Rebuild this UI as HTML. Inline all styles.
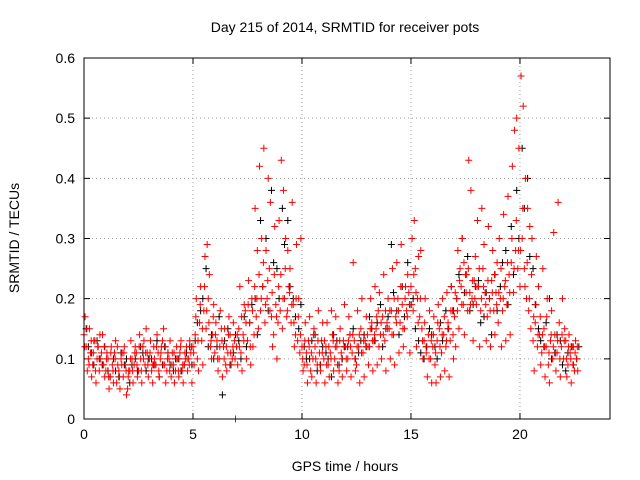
<!DOCTYPE html>
<html><head><meta charset="utf-8"><style>
html,body{margin:0;padding:0;background:#fff}
svg{display:block;font-family:"Liberation Sans",sans-serif}
</style></head><body>
<svg id="chart" width="640" height="480" xmlns="http://www.w3.org/2000/svg">
<rect width="640" height="480" fill="#fff"/>
<g id="grid"></g>
<g id="axes"></g>
<g id="marks"></g>
<rect x="84" y="58" width="526" height="361" fill="none" stroke="#000" stroke-width="1"/>
<text x="345" y="32" text-anchor="middle" font-size="14">Day 215 of 2014, SRMTID for receiver pots</text>
<text x="345" y="471" text-anchor="middle" font-size="14">GPS time / hours</text>
<text transform="translate(19,238) rotate(-90)" text-anchor="middle" font-size="14">SRMTID / TECUs</text>
</svg>
<script>
const xTicks=[0,5,10,15,20];
const yTicks=[0,0.1,0.2,0.3,0.4,0.5,0.6];
const yTickLabels=["0","0.1","0.2","0.3","0.4","0.5","0.6"];
const redStep=0.1;
const redA=[.14,.12,.10,.11,.09,.13,.10,.08,.11,.09,
.08,.10,.07,.09,.11,.06,.08,.10,.07,.09,
.05,.08,.10,.09,.11,.08,.10,.12,.09,.11,
.10,.08,.12,.09,.11,.10,.13,.09,.08,.10,
.07,.09,.08,.10,.11,.08,.09,.12,.10,.11,
.12,.14,.10,.16,.13,.18,.15,.20,.12,.14,
.11,.13,.10,.15,.12,.09,.11,.14,.10,.13,
.12,.15,.11,.14,.18,.13,.16,.20,.14,.17,
.15,.18,.22,.16,.20,.25,.17,.14,.19,.16,
.18,.15,.20,.17,.22,.16,.19,.14,.13,.11,
.12,.09,.11,.13,.08,.10,.12,.09,.11,.13,
.10,.12,.09,.11,.14,.10,.12,.08,.11,.13,
.12,.10,.14,.11,.13,.09,.12,.15,.11,.13,
.14,.12,.16,.13,.15,.18,.14,.17,.13,.16,
.15,.18,.14,.17,.20,.16,.19,.15,.18,.21,
.22,.18,.25,.20,.17,.15,.13,.11,.14,.10,
.12,.09,.13,.15,.11,.14,.12,.16,.13,.18,
.17,.20,.15,.22,.19,.24,.18,.21,.20,.23,
.19,.22,.18,.25,.21,.17,.20,.23,.18,.21,
.16,.20,.18,.22,.19,.24,.26,.21,.28,.25,
.22,.30,.25,.20,.18,.15,.13,.16,.12,.14,
.11,.15,.12,.09,.13,.10,.14,.11,.16,.12,
.10,.13,.09,.11,.12,.08,.10];
const redB=[.17,.08,.15,.07,.13,.06,.12,.10,.14,.07,
.11,.05,.12,.06,.13,.09,.05,.11,.12,.04,
.08,.13,.06,.12,.07,.14,.06,.13,.15,.07,
.13,.06,.09,.14,.07,.12,.15,.06,.11,.13,
.11,.06,.12,.07,.13,.06,.10,.08,.13,.06,
.09,.20,.08,.22,.09,.27,.29,.24,.10,.19,
.16,.08,.18,.07,.15,.08,.17,.09,.16,.00,
.09,.22,.08,.19,.10,.23,.09,.12,.35,.28,
.42,.30,.45,.28,.40,.36,.12,.32,.10,.33,
.43,.38,.30,.28,.25,.36,.12,.29,.20,.30,
.08,.16,.06,.17,.07,.15,.06,.18,.08,.16,
.06,.16,.07,.18,.08,.17,.06,.15,.07,.19,
.08,.17,.07,.26,.08,.18,.06,.20,.07,.17,
.09,.20,.08,.22,.09,.21,.10,.24,.08,.20,
.10,.25,.09,.26,.11,.29,.12,.22,.24,.11,
.30,.33,.12,.27,.28,.10,.20,.07,.18,.06,
.17,.06,.19,.07,.20,.08,.21,.07,.22,.10,
.12,.28,.25,.30,.14,.24,.43,.38,.13,.27,
.33,.12,.35,.29,.13,.32,.12,.28,.14,.26,
.30,.12,.34,.13,.37,.14,.42,.48,.50,.45,
.57,.52,.40,.35,.32,.30,.08,.27,.22,.09,
.25,.07,.20,.06,.18,.31,.08,.36,.07,.20,
.15,.07,.14,.06,.12,.13,.08];
const redC=[.12,.15,.09,.13,.11,.08,.12,.14,.09,.12,
.10,.07,.11,.08,.10,.12,.07,.09,.11,.08,
.07,.10,.08,.11,.09,.12,.08,.10,.11,.09,
.11,.09,.10,.12,.08,.11,.09,.12,.10,.08,
.09,.11,.10,.08,.12,.09,.11,.10,.09,.12,
.11,.17,.13,.19,.15,.22,.18,.16,.13,.17,
.14,.10,.12,.13,.10,.12,.14,.11,.12,.10,
.14,.12,.17,.13,.16,.19,.12,.18,.22,.20,
.24,.20,.26,.19,.23,.18,.21,.24,.17,.22,
.24,.20,.25,.18,.21,.19,.16,.20,.17,.14,
.10,.13,.09,.12,.11,.14,.10,.13,.09,.11,
.13,.09,.12,.10,.13,.12,.09,.13,.10,.12,
.10,.13,.12,.14,.10,.12,.14,.11,.13,.12,
.12,.15,.13,.14,.17,.12,.16,.14,.18,.15,
.18,.14,.20,.16,.18,.22,.15,.20,.17,.19,
.19,.24,.21,.16,.20,.13,.16,.12,.10,.13,
.14,.11,.16,.12,.14,.17,.13,.15,.18,.14,
.21,.18,.23,.19,.26,.21,.25,.19,.23,.20,
.22,.25,.20,.22,.19,.23,.18,.21,.24,.19,
.21,.25,.20,.23,.26,.21,.30,.25,.33,.28,
.28,.35,.22,.26,.20,.24,.17,.19,.14,.17,
.14,.12,.17,.11,.14,.12,.11,.13,.10,.14,
.13,.10,.12,.10,.09,.11,.12];
const blackStep=0.25;
const blackVals=[.15,.11,.13,.09,.08,.10,.07,.09,.06,.10,.12,.08,.10,.13,.09,.11,
.08,.10,.09,.12,.13,.18,.25,.14,.12,.04,.15,.11,.13,.17,.16,.20,
.33,.30,.38,.25,.35,.33,.20,.15,.12,.10,.14,.09,.11,.07,.13,.10,
.12,.15,.11,.14,.17,.13,.19,.15,.29,.18,.22,.26,.20,.13,.10,.15,
.12,.16,.18,.22,.20,.30,.27,.19,.23,.17,.20,.24,.22,.28,.32,.38,
.45,.40,.25,.15,.12,.20,.11,.13,.08,.12,.10];
const blackVals2=[.12,.09,.10,.12,.07,.08,.11,.10,.09,.08,.11,.10,.09,.07,.12,.09,
.10,.08,.11,.09,.16,.20,.12,.10,.17,.13,.09,.14,.10,.12,.19,.14,
.22,.18,.26,.20,.29,.22,.17,.19,.10,.13,.08,.12,.10,.14,.09,.12,
.14,.10,.13,.12,.15,.16,.12,.17,.21,.14,.17,.19,.15,.11,.12,.14,
.10,.13,.15,.18,.24,.21,.18,.22,.16,.21,.14,.18,.26,.19,.24,.30,
.35,.27,.19,.13,.16,.10,.14,.09,.11,.09,.12];

const NS='http://www.w3.org/2000/svg';
const X0=84,X1=610,Y0=419,Y1=58,XMAX=24.13,YMAX=0.6;
function sx(v){return X0+(X1-X0)*v/XMAX;}
function sy(v){return Y0-(Y0-Y1)*v/YMAX;}
function mk(tag,attrs,parent){const e=document.createElementNS(NS,tag);for(const k in attrs)e.setAttribute(k,attrs[k]);parent.appendChild(e);return e;}
const grid=document.getElementById('grid'),axes=document.getElementById('axes'),marks=document.getElementById('marks');
xTicks.forEach(function(t){
  const x=sx(t);
  if(t>0){const g=mk('line',{x1:x,x2:x,y1:Y1,y2:Y0,stroke:'#a0a0a0','stroke-dasharray':'1,3'},grid);
  
  }
  const a=mk('path',{d:'M'+x+' '+Y0+'v-6M'+x+' '+Y1+'v6',stroke:'#000'},axes);
  
  
  const l=mk('text',{x:x,y:Y0+20,'text-anchor':'middle','font-size':'14'},axes);
  l.textContent=String(t);
  
  
});
yTicks.forEach(function(t,i){
  const y=sy(t);
  if(t>0&&t<YMAX){const g=mk('line',{x1:X0,x2:X1,y1:y,y2:y,stroke:'#a0a0a0','stroke-dasharray':'1,3'},grid);
  
  }
  const a=mk('path',{d:'M'+X0+' '+y+'h6M'+X1+' '+y+'h-6',stroke:'#000'},axes);
  
  
  const l=mk('text',{x:X0-9,y:y+5,'text-anchor':'end','font-size':'14'},axes);
  l.textContent=yTickLabels[i];
  
  
});
function plus(t,v,color,name){
  const x=sx(t),y=sy(v);
  const p=mk('path',{d:'M'+(x-3.5)+' '+y+'h7M'+x+' '+(y-3.5)+'v7',stroke:color,'stroke-width':'1'},marks);
  
  
}
blackVals.forEach(function(v,i){plus(i*blackStep+0.1,v,'#000','black-point');});
blackVals2.forEach(function(v,i){plus(i*blackStep+0.2,v,'#000','black-point');});
redA.forEach(function(v,i){plus(i*redStep,v,'#f00','red-point');});
redB.forEach(function(v,i){plus(i*redStep+0.05,v,'#f00','red-point');});
redC.forEach(function(v,i){plus(i*redStep+0.03,v,'#f00','red-point');});
</script>
</body></html>
